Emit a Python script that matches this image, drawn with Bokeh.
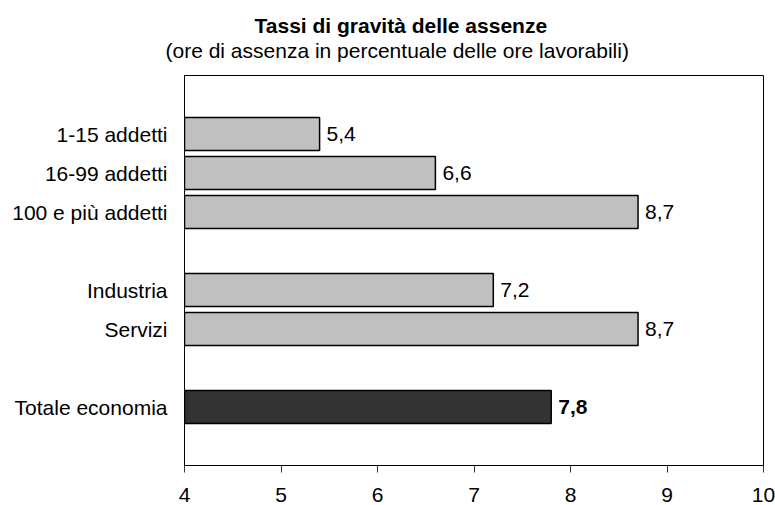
from bokeh.plotting import figure
from bokeh.models import FactorRange, Range1d, ColumnDataSource, FixedTicker, Title
from bokeh.core.properties import value
from bokeh.embed import file_html
from bokeh.resources import INLINE

# ---- data ----
categories = ["1-15 addetti", "16-99 addetti", "100 e più addetti",
              "Industria", "Servizi", "Totale economia"]
values = [5.4, 6.6, 8.7, 7.2, 8.7, 7.8]
is_total = [False, False, False, False, False, True]
x_ticks = [4, 5, 6, 7, 8, 9, 10]
title_text = "Tassi di gravità delle assenze"
subtitle_text = "(ore di assenza in percentuale delle ore lavorabili)"

# category axis, top to bottom, with blank spacer slots between groups
slots_top_down = [" ", categories[0], categories[1], categories[2], "  ",
                  categories[3], categories[4], "   ", categories[5], "    "]

FONT = "Liberation Sans"
x_min, x_max = x_ticks[0], x_ticks[-1]

src = ColumnDataSource(dict(
    cat=categories,
    val=values,
    left=[x_min] * len(values),
    fill=["#333333" if t else "#c0c0c0" for t in is_total],
    label=[("%.1f" % v).replace(".", ",") for v in values],
    style=["bold" if t else "normal" for t in is_total],
))

p = figure(width=775, height=505,
           y_range=FactorRange(factors=list(reversed(slots_top_down)), range_padding=0),
           x_range=Range1d(x_min, x_max),
           output_backend="svg", toolbar_location=None,
           min_border_left=184, min_border_right=12,
           min_border_top=75, min_border_bottom=40)

p.hbar(y="cat", left="left", right="val", height=0.84, source=src,
       fill_color="fill", line_color="black", line_width=1.5)

p.text(x="val", y="cat", text="label", source=src, x_offset=7,
       text_align="left", text_baseline="middle",
       text_font=value(FONT), text_font_size="21px", text_font_style="style",
       text_color="black")

# axes
p.xaxis.ticker = FixedTicker(ticks=x_ticks)
p.xaxis.major_tick_in = 0
p.xaxis.major_tick_out = 7
p.xaxis.minor_tick_line_color = None
p.xaxis.axis_line_color = "black"
p.xaxis.major_tick_line_color = "#333333"
p.xaxis.major_label_text_font = FONT
p.xaxis.major_label_text_font_size = "21px"
p.xaxis.major_label_text_color = "black"
p.xaxis.major_label_standoff = 15

p.yaxis.major_tick_line_color = None
p.yaxis.minor_tick_line_color = None
p.yaxis.axis_line_color = "black"
p.yaxis.major_label_text_font = FONT
p.yaxis.major_label_text_font_size = "21px"
p.yaxis.major_label_text_color = "black"
p.yaxis.major_label_standoff = 11

p.xgrid.grid_line_color = None
p.ygrid.grid_line_color = None
p.outline_line_color = "black"
p.outline_line_width = 1
p.background_fill_color = "white"
p.border_fill_color = "white"

# titles: spacer just above the frame, then subtitle, then bold title
p.add_layout(Title(text=" ", text_font_size="1px", standoff=11), "above")
p.add_layout(Title(text=subtitle_text, align="left", offset=-19, standoff=0,
                   text_font=FONT, text_font_size="21px", text_font_style="normal",
                   text_color="black"), "above")
p.add_layout(Title(text=title_text, align="left", offset=70, standoff=0,
                   text_font=FONT, text_font_size="21px", text_font_style="bold",
                   text_color="black"), "above")

open("out.html", "w").write(file_html(p, INLINE))
